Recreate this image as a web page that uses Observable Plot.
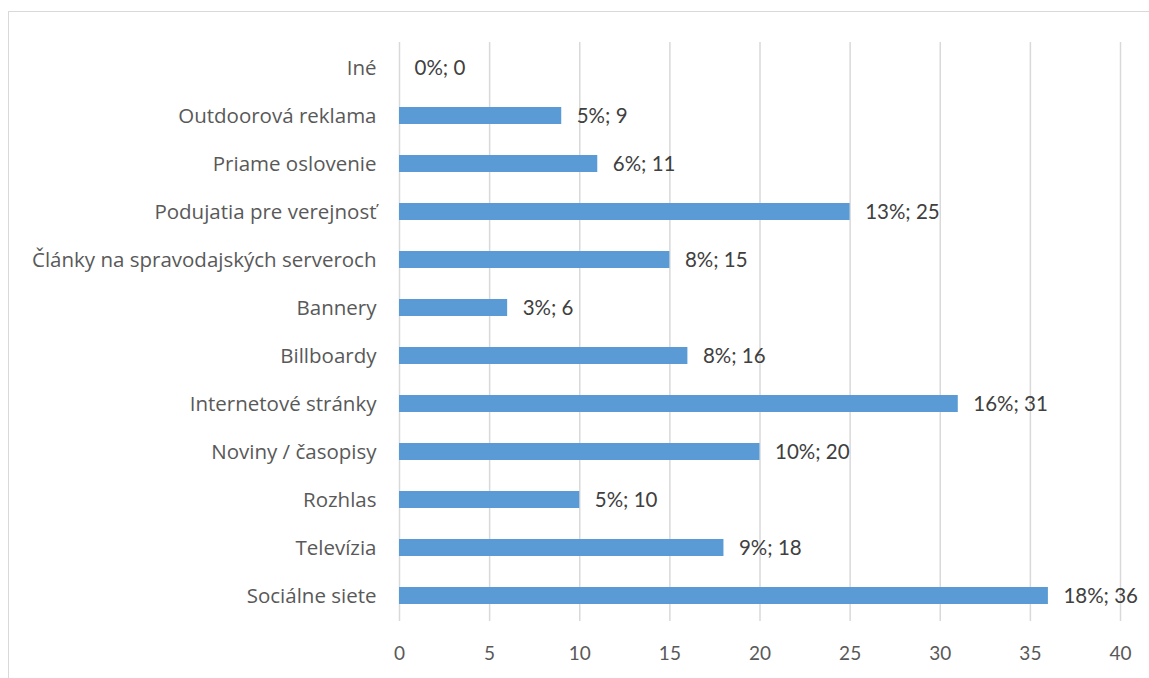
<!DOCTYPE html>
<html><head><meta charset="utf-8">
<script src="https://cdn.jsdelivr.net/npm/d3@7"></script>
<script src="https://cdn.jsdelivr.net/npm/@observablehq/plot@0.6"></script>
<style>
body{margin:0;background:#fff;overflow:hidden}
#wrap{position:relative;width:1149px;height:678px;overflow:hidden}
#border{position:absolute;left:8px;top:11px;width:1200px;height:700px;border:1.5px solid #d9d9d9;box-sizing:border-box;pointer-events:none}
#wrap svg{position:absolute;left:0;top:0}
</style></head><body><div id="wrap"><div id="border"></div></div>
<script>
const categories = ["Iné","Outdoorová reklama","Priame oslovenie","Podujatia pre verejnosť","Články na spravodajských serveroch","Bannery","Billboardy","Internetové stránky","Noviny / časopisy","Rozhlas","Televízia","Sociálne siete"];
const counts = [0,9,11,25,15,6,16,31,20,10,18,36];
const percents = [0,5,6,13,8,3,8,16,10,5,9,18];
const xTicks = [0,5,10,15,20,25,30,35,40];

const data = categories.map((c,i)=>({cat:c, count:counts[i], pct:percents[i]}));

const chart = Plot.plot({
  width:1149, height:678,
  marginLeft:399, marginRight:29, marginTop:42, marginBottom:57,
  style:{fontFamily:"Lato, 'Open Sans', sans-serif", fontSize:"19px", color:"#595959", background:"transparent"},
  x:{domain:[0,40], ticks:xTicks, tickSize:0, tickPadding:25, label:null},
  y:{domain:categories, paddingInner:0.65, paddingOuter:0.325, tickSize:0, tickPadding:23, label:null},
  marks:[
    Plot.gridX(xTicks,{stroke:"#d9d9d9", strokeOpacity:1, strokeWidth:1.5}),
    Plot.axisY({tickSize:0, tickPadding:23, fontSize:20.5, fontFamily:"'Open Sans', sans-serif", label:null}),
    Plot.axisX(xTicks,{tickSize:0, tickPadding:25, label:null}),
    Plot.barX(data,{x:"count", y:"cat", fill:"#5B9BD5"}),
    Plot.text(data,{x:"count", y:"cat", text:d=>`${d.pct}%; ${d.count}`, textAnchor:"start", dx:15, fontSize:20.5, fill:"#404040"})
  ]
});
document.getElementById("wrap").prepend(chart);
</script>
</body></html>
